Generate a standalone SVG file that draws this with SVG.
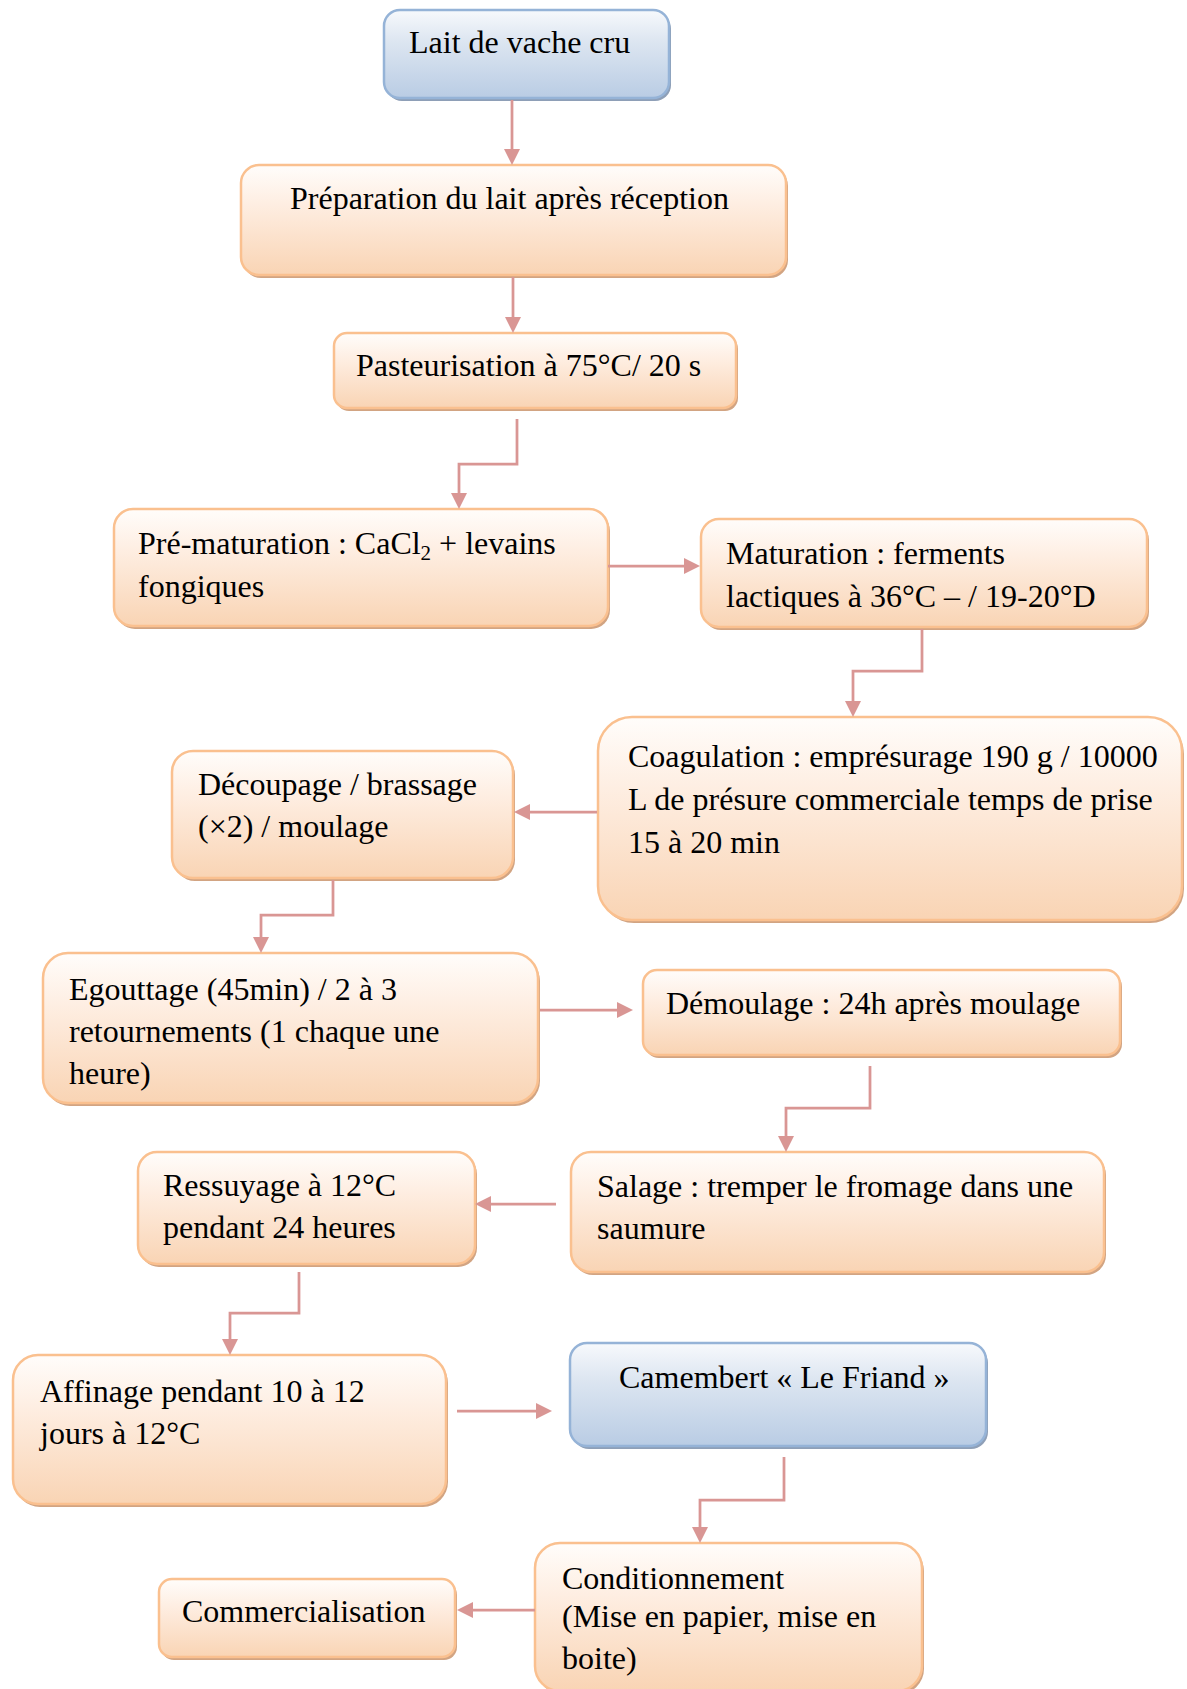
<svg xmlns="http://www.w3.org/2000/svg" width="1187" height="1689" viewBox="0 0 1187 1689">
  <defs>
    <linearGradient id="gOrange" x1="0" y1="0" x2="0" y2="1">
      <stop offset="0" stop-color="#FFFDFB"/>
      <stop offset="0.35" stop-color="#FEEEE2"/>
      <stop offset="1" stop-color="#F9D4B4"/>
    </linearGradient>
    <linearGradient id="gBlue" x1="0" y1="0" x2="0" y2="1">
      <stop offset="0" stop-color="#F7F9FC"/>
      <stop offset="0.35" stop-color="#DDE6F1"/>
      <stop offset="1" stop-color="#B9CCE4"/>
    </linearGradient>
    <marker id="arr" viewBox="0 0 16 16" refX="12" refY="8" markerWidth="16" markerHeight="16" markerUnits="userSpaceOnUse" orient="auto">
      <path d="M0,0 L16,8 L0,16 z" fill="#D99694"/>
    </marker>
  </defs>
  <style>
    .sh-o { fill: #D2A482; }
    .sh-b { fill: #8E9FB7; }
    .box-o { fill: url(#gOrange); stroke: #FAC08F; stroke-width: 2.5; }
    .box-b { fill: url(#gBlue); stroke: #95B3D7; stroke-width: 2.5; }
    text { font-family: "Liberation Serif", "Times New Roman", serif; font-size: 32px; fill: #000; }
    .conn { fill: none; stroke: #D99694; stroke-width: 2.75; marker-end: url(#arr); }
  </style>

  <rect width="1187" height="1689" fill="#FFFFFF"/>

  <!-- process steps -->
  <g id="lait">
    <rect class="sh-b" x="386" y="13" width="285" height="88" rx="16"/>
    <rect class="box-b" x="384" y="10" width="285" height="88" rx="16"/>
    <text x="409" y="53">Lait de vache cru</text>
  </g>

  <g id="preparation">
    <rect class="sh-o" x="243" y="168" width="545" height="110" rx="18"/>
    <rect class="box-o" x="241" y="165" width="545" height="110" rx="18"/>
    <text x="290" y="209">Préparation du lait après réception</text>
  </g>

  <g id="pasteurisation">
    <rect class="sh-o" x="336" y="336" width="402" height="75" rx="13"/>
    <rect class="box-o" x="334" y="333" width="402" height="75" rx="13"/>
    <text x="356" y="376">Pasteurisation à 75°C/ 20 s</text>
  </g>

  <g id="pre-maturation">
    <rect class="sh-o" x="116" y="512" width="494" height="117" rx="19"/>
    <rect class="box-o" x="114" y="509" width="494" height="117" rx="19"/>
    <text x="138" y="554">Pré-maturation : CaCl<tspan font-size="21" dy="6">2</tspan><tspan dy="-6"> + levains</tspan></text>
    <text x="138" y="597">fongiques</text>
  </g>

  <g id="maturation">
    <rect class="sh-o" x="703" y="522" width="446" height="108" rx="18"/>
    <rect class="box-o" x="701" y="519" width="446" height="108" rx="18"/>
    <text x="726" y="564">Maturation : ferments</text>
    <text x="726" y="607">lactiques à 36°C – / 19-20°D</text>
  </g>

  <g id="coagulation">
    <rect class="sh-o" x="600" y="720" width="584" height="203" rx="34"/>
    <rect class="box-o" x="598" y="717" width="584" height="203" rx="34"/>
    <text x="628" y="767">Coagulation : emprésurage 190 g / 10000</text>
    <text x="628" y="810">L de présure commerciale temps de prise</text>
    <text x="628" y="853">15 à 20 min</text>
  </g>

  <g id="decoupage">
    <rect class="sh-o" x="174" y="754" width="341" height="127" rx="21"/>
    <rect class="box-o" x="172" y="751" width="341" height="127" rx="21"/>
    <text x="198" y="795">Découpage / brassage</text>
    <text x="198" y="837">(×2) / moulage</text>
  </g>

  <g id="egouttage">
    <rect class="sh-o" x="45" y="956" width="495" height="150" rx="25"/>
    <rect class="box-o" x="43" y="953" width="495" height="150" rx="25"/>
    <text x="69" y="1000">Egouttage (45min) / 2 à 3</text>
    <text x="69" y="1042">retournements (1 chaque une</text>
    <text x="69" y="1084">heure)</text>
  </g>

  <g id="demoulage">
    <rect class="sh-o" x="645" y="973" width="477" height="85" rx="14"/>
    <rect class="box-o" x="643" y="970" width="477" height="85" rx="14"/>
    <text x="666" y="1014">Démoulage : 24h après moulage</text>
  </g>

  <g id="ressuyage">
    <rect class="sh-o" x="140" y="1155" width="337" height="112" rx="19"/>
    <rect class="box-o" x="138" y="1152" width="337" height="112" rx="19"/>
    <text x="163" y="1196">Ressuyage à 12°C</text>
    <text x="163" y="1238">pendant 24 heures</text>
  </g>

  <g id="salage">
    <rect class="sh-o" x="573" y="1155" width="533" height="120" rx="20"/>
    <rect class="box-o" x="571" y="1152" width="533" height="120" rx="20"/>
    <text x="597" y="1197">Salage : tremper le fromage dans une</text>
    <text x="597" y="1239">saumure</text>
  </g>

  <g id="affinage">
    <rect class="sh-o" x="15" y="1358" width="433" height="149" rx="25"/>
    <rect class="box-o" x="13" y="1355" width="433" height="149" rx="25"/>
    <text x="40" y="1402">Affinage pendant 10 à 12</text>
    <text x="40" y="1444">jours à 12°C</text>
  </g>

  <g id="camembert">
    <rect class="sh-b" x="572" y="1346" width="416" height="103" rx="17"/>
    <rect class="box-b" x="570" y="1343" width="416" height="103" rx="17"/>
    <text x="619" y="1388">Camembert « Le Friand »</text>
  </g>

  <g id="conditionnement">
    <rect class="sh-o" x="537" y="1546" width="387" height="148" rx="25"/>
    <rect class="box-o" x="535" y="1543" width="387" height="148" rx="25"/>
    <text x="562" y="1589">Conditionnement</text>
    <text x="562" y="1627">(Mise en papier, mise en</text>
    <text x="562" y="1669">boite)</text>
  </g>

  <g id="commercialisation">
    <rect class="sh-o" x="161" y="1582" width="296" height="78" rx="13"/>
    <rect class="box-o" x="159" y="1579" width="296" height="78" rx="13"/>
    <text x="182" y="1622">Commercialisation</text>
  </g>

  <!-- connectors -->
  <g id="connectors">
    <path class="conn" d="M512,100 V161"/>
    <path class="conn" d="M513,277 V329"/>
    <path class="conn" d="M517,419 V464 H459 V505"/>
    <path class="conn" d="M608,566 H696"/>
    <path class="conn" d="M922,629 V671 H853 V713"/>
    <path class="conn" d="M597,812 H518"/>
    <path class="conn" d="M333,880 V915 H261 V949"/>
    <path class="conn" d="M540,1010 H629"/>
    <path class="conn" d="M870,1066 V1108 H786 V1148"/>
    <path class="conn" d="M556,1204 H479"/>
    <path class="conn" d="M299,1272 V1313 H230 V1351"/>
    <path class="conn" d="M457,1411 H548"/>
    <path class="conn" d="M784,1457 V1500 H700 V1539"/>
    <path class="conn" d="M535,1610 H461"/>
  </g>
</svg>
